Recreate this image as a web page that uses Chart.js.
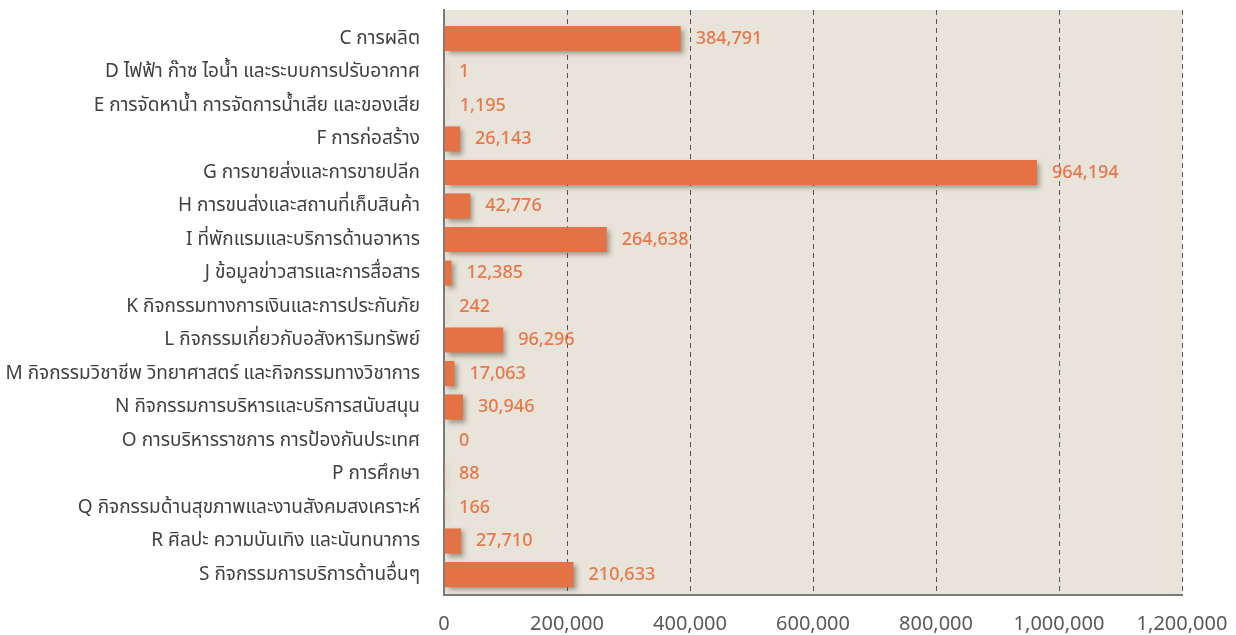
<!DOCTYPE html>
<html>
<head>
<meta charset="utf-8">
<script src="https://cdn.jsdelivr.net/npm/chart.js@4"></script>
<style>
  html, body { margin: 0; padding: 0; background: #fff; }
  #wrap { width: 1236px; height: 635px; }
</style>
</head>
<body>
<div id="wrap"><canvas id="myChart" width="1236" height="635"></canvas></div>
<script>
/*-------------------------
~~~~~~~~~~~Data~~~~~~~~~~~~
-------------------------*/
const categories = [
    'C การผลิต',
    'D ไฟฟ้า ก๊าซ ไอน้ำ และระบบการปรับอากาศ',
    'E การจัดหาน้ำ การจัดการน้ำเสีย และของเสีย',
    'F การก่อสร้าง',
    'G การขายส่งและการขายปลีก',
    'H การขนส่งและสถานที่เก็บสินค้า',
    'I ที่พักแรมและบริการด้านอาหาร',
    'J ข้อมูลข่าวสารและการสื่อสาร',
    'K กิจกรรมทางการเงินและการประกันภัย',
    'L กิจกรรมเกี่ยวกับอสังหาริมทรัพย์',
    'M กิจกรรมวิชาชีพ วิทยาศาสตร์ และกิจกรรมทางวิชาการ',
    'N กิจกรรมการบริหารและบริการสนับสนุน',
    'O การบริหารราชการ การป้องกันประเทศ',
    'P การศึกษา',
    'Q กิจกรรมด้านสุขภาพและงานสังคมสงเคราะห์',
    'R ศิลปะ ความบันเทิง และนันทนาการ',
    'S กิจกรรมการบริการด้านอื่นๆ'
];
const values = [384791, 1, 1195, 26143, 964194, 42776, 264638, 12385, 242, 96296, 17063, 30946, 0, 88, 166, 27710, 210633];
const xTicks = [0, 200000, 400000, 600000, 800000, 1000000, 1200000];

const barColor = '#E57244';
const labelColor = '#E8774A';
const fontFamily = "'Noto Sans', 'Noto Sans Thai', Tahoma, sans-serif";

/*-------------------------
~~~~~~~~~~Plugins~~~~~~~~~~
-------------------------*/
const plotBackground = {
    id: 'plotBackground',
    beforeDraw(chart) {
        const {ctx, chartArea: a} = chart;
        ctx.save();
        ctx.fillStyle = '#E8E4DA';
        ctx.fillRect(a.left, a.top, a.right - a.left, a.bottom - a.top);
        ctx.restore();
    }
};

const barShadow = {
    id: 'barShadow',
    beforeDatasetsDraw(chart) {
        const ctx = chart.ctx;
        ctx.save();
        ctx.shadowColor = 'rgba(60, 50, 30, 0.45)';
        ctx.shadowBlur = 5;
        ctx.shadowOffsetX = 3;
        ctx.shadowOffsetY = 3;
    },
    afterDatasetsDraw(chart) {
        chart.ctx.restore();
    }
};

const valueLabels = {
    id: 'valueLabels',
    afterDatasetsDraw(chart) {
        const ctx = chart.ctx;
        const meta = chart.getDatasetMeta(0);
        ctx.save();
        ctx.font = '500 18px ' + fontFamily;
        ctx.fillStyle = labelColor;
        ctx.textAlign = 'left';
        ctx.textBaseline = 'middle';
        meta.data.forEach((bar, i) => {
            ctx.fillText(values[i].toLocaleString('en-US'), bar.x + 15, bar.y);
        });
        ctx.restore();
    }
};

/*-------------------------
~~~~~~~~~~~Chart~~~~~~~~~~~
-------------------------*/
const ctx = document.getElementById('myChart').getContext('2d');
const myChart = new Chart(ctx, {
    type: 'bar',
    data: {
        labels: categories,
        datasets: [{
            data: values,
            backgroundColor: barColor,
            borderWidth: 0,
            categoryPercentage: 0.75,
            barPercentage: 1
        }]
    },
    options: {
        indexAxis: 'y',
        responsive: false,
        animation: false,
        layout: { padding: { top: 10, right: 54, left: 0, bottom: 0 } },
        plugins: {
            legend: { display: false },
            tooltip: { enabled: false }
        },
        scales: {
            x: {
                min: 0,
                max: 1200000,
                afterBuildTicks: scale => { scale.ticks = xTicks.map(v => ({value: v})); },
                afterFit: scale => {
                    scale.height = 40;
                    scale.paddingLeft = 0;
                    scale.paddingRight = 0;
                },
                ticks: {
                    color: '#595959',
                    padding: 17,
                    maxRotation: 0,
                    font: { family: fontFamily, size: 20 },
                    callback: v => Number(v).toLocaleString('en-US')
                },
                grid: {
                    color: '#555555',
                    lineWidth: 1,
                    drawTicks: false
                },
                border: { display: true, color: '#7a7a7a', width: 2, dash: [5, 4] }
            },
            y: {
                // the plot area has a bit more room above the first bar than below the last
                afterBuildTicks: scale => {
                    scale._startValue = -0.85;
                    scale._valueRange = categories.length + 0.46;
                },
                afterFit: scale => {
                    scale.width = 444;
                    scale.paddingTop = 0;
                    scale.paddingBottom = 0;
                },
                ticks: {
                    color: '#404040',
                    padding: 24,
                    autoSkip: false,
                    font: { family: fontFamily, size: 19 }
                },
                grid: { display: false, drawTicks: false },
                border: { display: true, color: '#7a7a7a', width: 2 }
            }
        }
    },
    plugins: [plotBackground, barShadow, valueLabels]
});
</script>
</body>
</html>
